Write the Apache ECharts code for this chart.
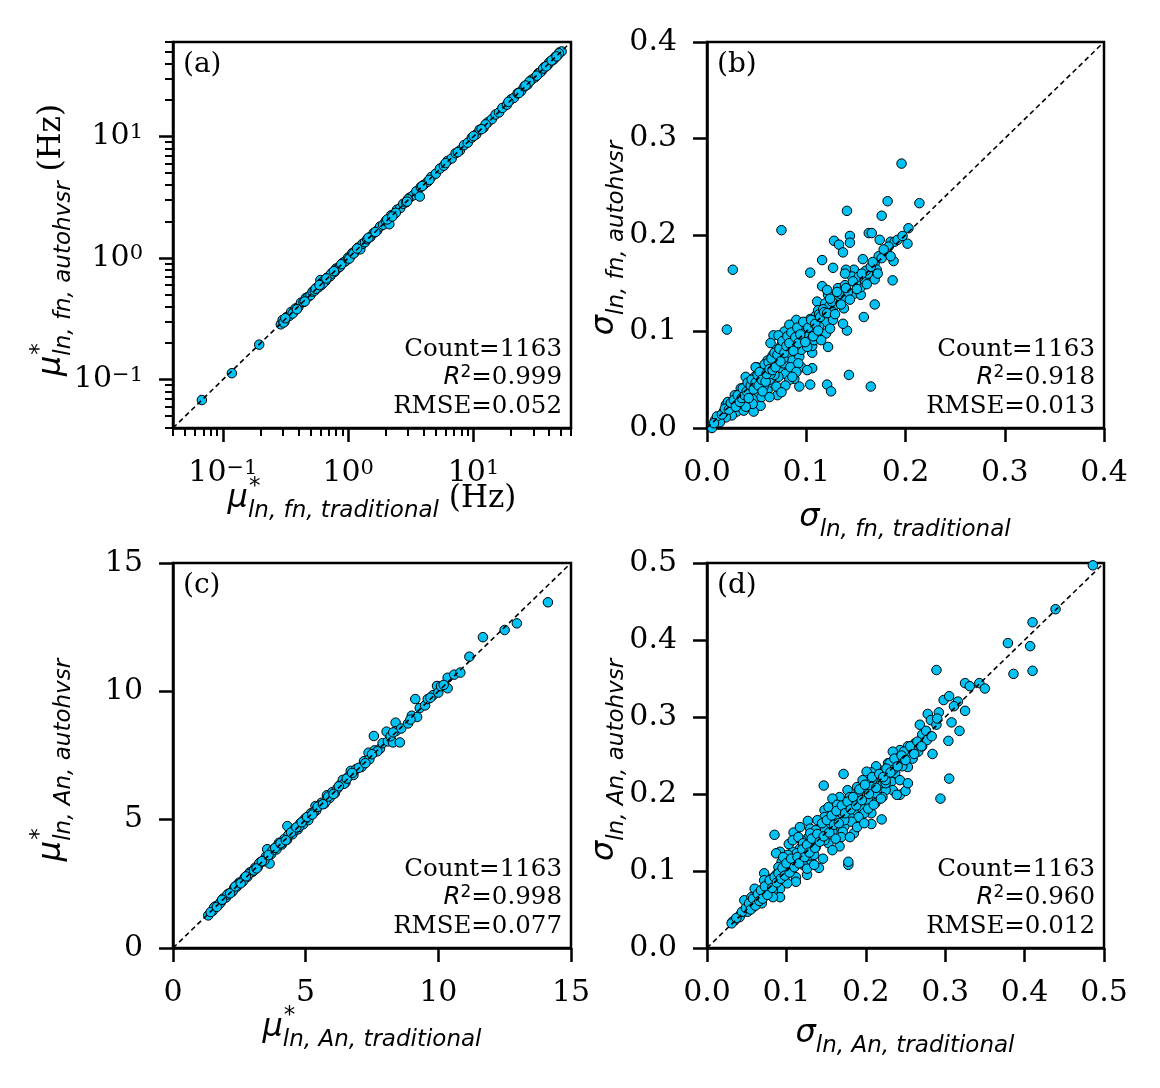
<!doctype html>
<html>
<head>
<meta charset="utf-8">
<script src="https://cdn.jsdelivr.net/npm/echarts@6/dist/echarts.min.js"></script>
<style>
  html, body { margin:0; padding:0; background:#fff; }
  #main { width:1160px; height:1088px; }
</style>
</head>
<body>
<div id="main"></div>
<script>
// ---- data ----
// (a) mu*_ln,fn : traditional vs autohvsr (Hz, log-log)
var muFnPoints = [
  [0.068,0.068],[0.118,0.113],[0.195,0.194],[0.29,0.285],[0.30,0.31],[0.31,0.30],[0.32,0.325],[0.33,0.33],
  [0.34,0.335],[0.35,0.36],[0.37,0.365],[0.38,0.385],[0.40,0.395],[0.42,0.43],[0.44,0.435],[0.46,0.47],
  [0.48,0.48],[0.50,0.495],[0.52,0.53],[0.54,0.54],[0.56,0.57],[0.58,0.575],[0.60,0.66],[0.61,0.60],
  [0.62,0.63],[0.64,0.65],[0.66,0.65],[0.68,0.69],[0.70,0.70],[0.72,0.71],[0.75,0.76],[0.78,0.77],
  [0.80,0.82],[0.83,0.83],[0.86,0.85],[0.90,0.91],[0.93,0.93],[0.96,0.95],[1.00,1.01],[1.04,1.03],
  [1.08,1.10],[1.12,1.11],[1.16,1.17],[1.20,1.22],[1.25,1.18],[1.30,1.31],[1.36,1.35],[1.42,1.43],
  [1.50,1.49],[1.60,1.61],[1.70,1.68],[1.80,1.82],[1.90,1.88],[2.00,2.02],[2.13,1.90],[2.20,2.25],
  [2.30,2.28],[2.45,2.50],[2.60,2.58],[2.75,2.80],[2.90,2.88],[3.10,3.15],[3.30,3.28],[3.50,3.55],
  [3.73,3.21],[3.80,3.85],[4.00,4.00],[4.30,4.25],[4.60,4.65],[5.00,4.95],[5.40,5.45],[5.80,5.75],
  [6.20,6.30],[6.70,6.60],[7.20,7.30],[7.80,7.70],[8.40,8.50],[9.00,8.90],[9.70,9.80],[10.5,10.4],
  [11.2,11.4],[12.0,11.8],[13.0,13.1],[14.0,13.9],[15.0,15.2],[16.0,15.8],[17.0,17.2],[18.5,18.3],
  [20.0,20.3],[21.0,20.8],[22.5,22.7],[24.0,23.7],[25.5,25.8],[27.0,26.8],[29.0,29.3],[31.0,30.7],
  [33.0,33.3],[35.0,34.6],[37.0,37.4],[39.0,38.6],[41.0,41.4],[43.0,42.6],[45.0,45.3],[47.0,46.6],
  [49.0,49.5],[50.5,50.2],[0.36,0.35],[0.45,0.44],[0.55,0.56],[0.63,0.62],[0.73,0.74],[0.88,0.89],
  [1.45,1.47],[1.65,1.64],[2.05,2.08],[2.40,2.36],[3.00,3.05],[4.45,4.40],[6.00,6.05],[12.5,12.6],
  [19.0,19.3],[23.0,22.8],[28.0,28.3],[34.0,33.7],[40.0,40.4],[44.0,43.6],[48.0,48.4],
  [0.305,0.295],[0.315,0.32],[0.39,0.38],[0.59,0.60],[0.67,0.68],[0.77,0.78],[1.02,0.99],[1.10,1.09],
  [1.18,1.20],[2.25,2.20],[2.95,2.92],[3.90,3.92],[7.50,7.45],[10.0,10.1],[11.6,11.5],[26.0,26.3],
  [32.0,31.7],[36.0,36.3],[38.0,37.8],[42.0,42.3],[46.0,45.7]
];

// (b) sigma_ln,fn : traditional vs autohvsr
var sigmaFnPoints = [
  [0.196,0.274],[0.182,0.235],[0.214,0.233],[0.141,0.225],[0.075,0.205],[0.176,0.220],[0.203,0.207],
  [0.202,0.191],[0.163,0.202],[0.166,0.202],[0.144,0.199],[0.144,0.192],[0.128,0.194],[0.133,0.190],
  [0.174,0.195],[0.185,0.193],[0.189,0.193],[0.137,0.182],[0.116,0.174],[0.157,0.175],[0.188,0.173],
  [0.026,0.164],[0.104,0.161],[0.127,0.166],[0.148,0.164],[0.187,0.153],[0.169,0.154],[0.116,0.147],
  [0.169,0.128],[0.158,0.115],[0.141,0.101],[0.020,0.102],[0.122,0.084],[0.106,0.062],[0.104,0.045],
  [0.121,0.045],[0.125,0.038],[0.143,0.055],[0.165,0.043],[0.093,0.043],[0.088,0.051],[0.071,0.034],
  [0.054,0.023],[0.047,0.017],[0.005,0.000],[0.011,0.011],[0.095,0.063],[0.106,0.078],[0.106,0.085],
  [0.067,0.096],[0.064,0.088],[0.078,0.100],[0.086,0.107],[0.093,0.107],[0.104,0.113],[0.101,0.108],
  [0.110,0.117],[0.120,0.115],[0.120,0.110],[0.120,0.098],[0.131,0.133],[0.122,0.138],[0.121,0.143],
  [0.132,0.145],[0.138,0.136],[0.138,0.124],[0.137,0.108],[0.128,0.126],[0.148,0.139],[0.155,0.138],
  [0.155,0.146],[0.159,0.153],[0.162,0.160],[0.169,0.171],[0.173,0.178],[0.179,0.180],[0.180,0.184],
  [0.171,0.164],[0.139,0.148],[0.146,0.157],[0.140,0.164],[0.139,0.160],[0.111,0.131],[0.119,0.129],
  [0.112,0.122],[0.123,0.126],[0.127,0.120],[0.127,0.112],[0.124,0.103],
  [0.050,0.063],[0.061,0.070],[0.066,0.075],[0.070,0.081],[0.075,0.086],[0.081,0.091],[0.086,0.095],
  [0.091,0.100],[0.095,0.103],[0.079,0.081],[0.083,0.075],[0.086,0.070],[0.093,0.074],[0.095,0.081],
  [0.101,0.084],[0.090,0.086],[0.074,0.062],[0.079,0.056],[0.072,0.053],[0.064,0.046],[0.061,0.039],
  [0.054,0.048],[0.048,0.053],[0.043,0.048],[0.039,0.043],[0.036,0.037],[0.032,0.032],[0.028,0.027],
  [0.023,0.022],[0.017,0.017],[0.014,0.013],[0.008,0.008],[0.025,0.018],[0.030,0.017],[0.037,0.018],
  [0.043,0.025],[0.048,0.032],[0.052,0.037],[0.057,0.043],[0.063,0.050],[0.068,0.055],[0.057,0.053],
  [0.050,0.043],[0.041,0.036],[0.034,0.025],[0.039,0.029],[0.019,0.024],[0.028,0.034],[0.034,0.041],
  [0.039,0.053],[0.049,0.063],[0.057,0.058],[0.064,0.065],[0.072,0.070],[0.077,0.067],[0.084,0.063],
  [0.092,0.067],[0.077,0.072],[0.090,0.058],[0.083,0.050],[0.064,0.056],[0.070,0.043],[0.055,0.032],
  [0.046,0.025],[0.039,0.022],[0.025,0.013],[0.019,0.011],[0.012,0.010],[0.013,0.006],[0.021,0.027],
  [0.099,0.095],[0.108,0.100],[0.103,0.100],[0.096,0.091],[0.108,0.091],[0.115,0.091],[0.113,0.105],
  [0.106,0.105],[0.090,0.112],[0.083,0.107],[0.072,0.096],[0.086,0.053],[0.101,0.060],[0.079,0.044],
  [0.075,0.037],[0.063,0.032],[0.113,0.118],[0.117,0.123],[0.126,0.131],[0.134,0.139],[0.142,0.141],
  [0.150,0.150],[0.153,0.157],[0.160,0.163],[0.165,0.167],[0.176,0.176],[0.183,0.188],[0.192,0.195],
  [0.197,0.199],[0.098,0.098],[0.088,0.089],[0.082,0.083],[0.069,0.067],[0.059,0.061],[0.046,0.046],
  [0.044,0.039],[0.031,0.029],[0.027,0.024],[0.016,0.015],[0.010,0.012],[0.007,0.005],
  [0.015,0.014],[0.018,0.020],[0.022,0.019],[0.024,0.026],[0.027,0.029],[0.029,0.022],[0.031,0.034],
  [0.033,0.027],[0.035,0.031],[0.036,0.041],[0.038,0.034],[0.040,0.038],[0.041,0.047],[0.042,0.031],
  [0.044,0.044],[0.045,0.050],[0.047,0.040],[0.049,0.047],[0.051,0.055],[0.052,0.044],[0.053,0.058],
  [0.055,0.050],[0.056,0.038],[0.058,0.066],[0.059,0.048],[0.060,0.056],[0.062,0.068],[0.063,0.061],
  [0.065,0.072],[0.066,0.060],[0.068,0.078],[0.069,0.063],[0.071,0.076],[0.073,0.082],[0.074,0.069],
  [0.076,0.090],[0.078,0.078],[0.080,0.085],[0.081,0.095],[0.083,0.088],[0.085,0.099],[0.087,0.080],
  [0.089,0.094],[0.091,0.104],[0.092,0.088],[0.094,0.097],[0.097,0.110],[0.099,0.089],[0.102,0.104],
  [0.105,0.112],[0.107,0.095],[0.109,0.108],[0.112,0.101],[0.114,0.115],[0.118,0.120],[0.121,0.119],
  [0.124,0.134],[0.129,0.118],[0.131,0.141],[0.135,0.128],[0.140,0.145],[0.144,0.133],[0.147,0.152],
  [0.151,0.144],[0.156,0.160],[0.161,0.149],[0.167,0.172],[0.172,0.160],[0.178,0.185],[0.185,0.178]
];

// (c) mu*_ln,An : traditional vs autohvsr
var muAnPoints = [
  [1.33,1.27],[1.50,1.45],[1.60,1.62],[1.70,1.66],[1.80,1.78],[1.90,1.93],[2.00,1.97],[2.10,2.12],
  [2.20,2.17],[2.30,2.33],[2.40,2.38],[2.50,2.55],[2.60,2.57],[2.70,2.74],[2.80,2.77],[2.90,2.95],
  [3.00,2.97],[3.10,3.13],[3.20,3.16],[3.30,3.35],[3.40,3.37],[3.50,3.56],[3.55,3.85],[3.64,3.29],
  [3.70,3.66],[3.80,3.86],[3.90,3.84],[4.00,4.10],[4.10,4.03],[4.20,4.25],[4.31,4.75],[4.30,4.22],
  [4.40,4.45],[4.50,4.43],[4.60,4.66],[4.70,4.62],[4.80,4.86],[4.90,4.82],[5.00,5.05],[5.10,4.98],
  [5.20,5.25],[5.37,5.53],[5.40,5.36],[5.60,5.66],[5.70,5.62],[5.80,5.95],[5.90,5.84],[6.00,6.07],
  [6.10,6.03],[6.30,6.35],[6.40,6.55],[6.50,6.45],[6.60,6.66],[6.70,6.90],[6.80,6.74],[6.90,6.97],
  [7.10,7.05],[7.20,7.28],[7.37,7.61],[7.40,7.35],[7.57,8.26],[7.60,7.70],[7.80,7.76],[7.90,7.98],
  [8.05,8.43],[8.10,8.05],[8.29,8.01],[8.39,8.78],[8.40,8.45],[8.55,8.01],[8.60,8.55],[8.86,8.75],
  [9.00,9.05],[9.20,9.00],[9.13,9.70],[9.30,9.35],[9.50,9.45],[9.60,9.70],[9.80,9.85],[9.95,10.21],
  [10.0,9.95],[10.1,10.2],[10.35,10.53],[10.35,10.12],[10.6,10.65],[10.83,10.73],[11.17,11.35],
  [11.68,12.11],[12.5,12.39],[12.96,12.65],[14.13,13.47],
  [1.55,1.58],[1.75,1.72],[2.05,2.08],[2.25,2.21],[2.45,2.48],[2.65,2.62],[2.85,2.88],[3.05,3.02],
  [3.25,3.30],[3.45,3.42],[3.75,3.80],[3.95,4.00],[4.15,4.12],[4.35,4.40],[4.55,4.58],[4.75,4.72],
  [4.95,5.00],[5.30,5.28],[5.50,5.55],[5.75,5.70],[6.20,6.22],[6.45,6.40],[7.00,7.02],[7.70,7.66],
  [8.20,8.25],[8.95,8.90],[9.70,9.75],[10.2,10.25],
  [1.42,1.40],[1.65,1.60],[1.85,1.88],[2.15,2.13],[2.35,2.40],[2.55,2.52],[2.75,2.79],[3.15,3.10],
  [3.35,3.38],[3.60,3.62],[3.85,3.90],[4.05,4.08],[4.25,4.20],[4.45,4.50],[4.65,4.70],[4.85,4.90],
  [5.05,5.10],[5.25,5.20],[5.45,5.50],[5.65,5.60],[5.85,5.90],[6.05,6.00],[6.25,6.30],[6.55,6.60],
  [6.75,6.82],[7.25,7.20],[7.50,7.55],[8.30,8.40]
];

// (d) sigma_ln,An : traditional vs autohvsr
var sigmaAnPoints = [
  [0.486,0.497],[0.439,0.440],[0.410,0.423],[0.407,0.392],[0.379,0.396],[0.386,0.356],[0.410,0.360],
  [0.289,0.361],[0.325,0.344],[0.331,0.340],[0.343,0.344],[0.350,0.337],[0.298,0.322],[0.305,0.327],
  [0.316,0.320],[0.311,0.314],[0.325,0.308],[0.278,0.304],[0.292,0.306],[0.308,0.293],[0.318,0.282],
  [0.304,0.269],[0.268,0.290],[0.284,0.252],[0.305,0.220],[0.294,0.194],[0.282,0.296],[0.289,0.290],
  [0.273,0.270],[0.271,0.277],[0.262,0.266],[0.253,0.262],[0.243,0.257],[0.234,0.255],[0.266,0.255],
  [0.255,0.249],[0.246,0.242],[0.237,0.238],[0.228,0.240],[0.223,0.231],[0.213,0.236],[0.216,0.225],
  [0.207,0.228],[0.201,0.229],[0.203,0.218],[0.212,0.214],[0.221,0.218],[0.230,0.223],[0.237,0.227],
  [0.232,0.216],[0.234,0.205],[0.243,0.199],[0.250,0.204],[0.239,0.199],[0.253,0.235],[0.225,0.205],
  [0.221,0.196],[0.212,0.201],[0.198,0.207],[0.189,0.209],[0.194,0.199],[0.203,0.192],[0.207,0.175],
  [0.220,0.167],[0.207,0.161],[0.172,0.226],[0.147,0.211],[0.177,0.205],[0.167,0.196],[0.185,0.188],
  [0.173,0.181],[0.185,0.177],[0.194,0.183],[0.198,0.175],[0.180,0.170],[0.169,0.170],[0.160,0.175],
  [0.148,0.179],[0.153,0.183],[0.148,0.170],[0.139,0.166],[0.145,0.157],[0.153,0.160],[0.162,0.157],
  [0.173,0.158],[0.185,0.149],[0.171,0.151],[0.158,0.151],[0.169,0.144],[0.167,0.132],[0.178,0.108],
  [0.178,0.112],[0.153,0.136],[0.148,0.140],[0.142,0.147],[0.135,0.140],[0.137,0.131],[0.128,0.144],
  [0.127,0.165],[0.133,0.136],[0.126,0.127],[0.117,0.129],[0.119,0.121],[0.112,0.116],[0.126,0.116],
  [0.135,0.121],[0.146,0.116],[0.141,0.104],[0.130,0.108],[0.121,0.108],[0.108,0.108],[0.103,0.101],
  [0.099,0.110],[0.108,0.125],[0.109,0.150],[0.103,0.135],[0.092,0.125],[0.087,0.123],[0.085,0.147],
  [0.094,0.112],[0.090,0.105],[0.096,0.099],[0.087,0.095],[0.081,0.090],[0.072,0.097],[0.072,0.088],
  [0.078,0.084],[0.087,0.082],[0.099,0.086],[0.112,0.092],[0.126,0.095],[0.112,0.086],[0.101,0.084],
  [0.092,0.077],[0.083,0.075],[0.092,0.066],[0.083,0.066],[0.074,0.071],[0.067,0.066],[0.062,0.062],
  [0.060,0.077],[0.069,0.058],[0.058,0.053],[0.051,0.060],[0.047,0.062],[0.056,0.066],[0.051,0.047],
  [0.042,0.043],[0.041,0.040],[0.035,0.036],[0.032,0.034],[0.031,0.032],[0.108,0.140],[0.119,0.140],
  [0.130,0.155],[0.117,0.157],[0.115,0.144],[0.158,0.194],[0.164,0.186],[0.180,0.196],[0.191,0.203],
  [0.196,0.218],[0.207,0.209],[0.219,0.214],[0.225,0.214],[0.230,0.240],[0.241,0.246],[0.248,0.255],
  [0.259,0.257],[0.259,0.246],[0.246,0.236],[0.234,0.231],[0.225,0.218],[0.212,0.188],[0.203,0.181],
  [0.191,0.170],[0.182,0.164],[0.173,0.166],[0.162,0.166],[0.155,0.167],[0.148,0.153],[0.137,0.153],
  [0.130,0.149],[0.121,0.136],[0.113,0.123],[0.102,0.121],[0.096,0.118],[0.105,0.114],[0.126,0.103],
  [0.135,0.108],[0.158,0.127],[0.162,0.142],[0.180,0.144],[0.189,0.157],[0.198,0.162],[0.210,0.186],
  [0.219,0.194],[0.243,0.218],[0.253,0.214],[0.271,0.262],[0.277,0.270],
  [0.037,0.039],[0.044,0.047],[0.049,0.052],[0.053,0.058],[0.055,0.050],[0.058,0.064],[0.061,0.055],
  [0.064,0.070],[0.066,0.061],[0.068,0.075],[0.070,0.064],[0.073,0.080],[0.076,0.069],[0.079,0.088],
  [0.082,0.078],[0.085,0.092],[0.088,0.085],[0.090,0.097],[0.093,0.090],[0.095,0.104],[0.098,0.094],
  [0.100,0.110],[0.104,0.098],[0.106,0.116],[0.110,0.105],[0.114,0.118],[0.116,0.110],[0.120,0.128],
  [0.123,0.118],[0.126,0.134],[0.129,0.124],[0.132,0.142],[0.136,0.130],[0.139,0.148],[0.142,0.138],
  [0.145,0.162],[0.147,0.145],[0.151,0.166],[0.154,0.150],[0.157,0.172],[0.160,0.160],[0.163,0.178],
  [0.166,0.162],[0.170,0.185],[0.174,0.175],[0.177,0.190],[0.181,0.180],[0.184,0.196],[0.188,0.185],
  [0.192,0.206],[0.195,0.192],[0.199,0.212],[0.204,0.200],[0.208,0.222],[0.213,0.208],[0.217,0.226],
  [0.222,0.222],[0.226,0.233],[0.231,0.228],[0.236,0.246],[0.240,0.236],[0.245,0.250],[0.250,0.244],
  [0.256,0.262],[0.261,0.252],[0.265,0.268],[0.270,0.262],[0.276,0.282],[0.283,0.275],[0.290,0.298]
];

var logMajor = [0.1, 1, 10];
var logMinor = [0.04,0.05,0.06,0.07,0.08,0.09,0.2,0.3,0.4,0.5,0.6,0.7,0.8,0.9,
                2,3,4,5,6,7,8,9,20,30,40,50,60];
var panelLetters = ['(a)', '(b)', '(c)', '(d)'];
var stats = [
  ['1163', '0.999', '0.052'],
  ['1163', '0.918', '0.013'],
  ['1163', '0.998', '0.077'],
  ['1163', '0.960', '0.012']
];

// ---- layout ----
var grids = [
  {left:173, top:42, width:398, height:386},
  {left:707, top:42, width:397, height:386},
  {left:173, top:563, width:398, height:385},
  {left:707, top:563, width:397, height:385}
];

var SERIF = '"DejaVu Serif", "Liberation Serif", serif';
var SANS = '"DejaVu Sans", sans-serif';

function fontI(s){ return 'italic ' + s + 'px ' + SANS; }
function fontS(s){ return s + 'px ' + SANS; }
function fontR(s){ return s + 'px ' + SERIF; }

var ctx2d = document.createElement('canvas').getContext('2d');
function textWidth(t, f){ ctx2d.font = f; return ctx2d.measureText(t).width; }

// math-like label: symbol with * superscript and subscript, built from text pieces
function mathTitle(cx, cy, rot, pieces){
  var x = 0, kids = [];
  pieces.forEach(function(p){
    kids.push({
      type:'text', x: x + (p.dx || 0), y: p.dy - 0.3 * p.size,
      style:{text:p.t, font:p.font, fill:'#000', textAlign:'left', textVerticalAlign:'middle'}
    });
    if (!p.overlay) x += textWidth(p.t, p.font);
  });
  kids.forEach(function(k){ k.x -= x / 2; });
  return {type:'group', x:cx, y:cy, rotation:rot, silent:true, children:kids};
}

function titlePieces(sym, star, sub, suffix){
  var p = [{t:sym, font:fontI(32), size:32, dy:0}];
  if (star) p.push({t:'*', font:fontS(23), size:23, dy:-14, dx:1, overlay:true});
  p.push({t:sub, font:fontI(23), size:23, dy:10});
  if (suffix) p.push({t:suffix, font:fontR(31), size:31, dy:0});
  return p;
}

function powLabel(v){
  var e = Math.round(Math.log10(v));
  if (Math.abs(Math.log10(v) - e) > 1e-6) return '';
  return '{b|10}{s|' + (e < 0 ? '\u2212' + (-e) : e) + '}';
}
var powRich = {
  b:{fontFamily:SERIF, fontSize:30, color:'#000', lineHeight:30},
  s:{fontFamily:SERIF, fontSize:21, color:'#000', verticalAlign:'top', lineHeight:21}
};

var lineW = 2.5;
function baseAxis(gi, extra){
  var a = {
    gridIndex: gi,
    axisLine:{show:true, onZero:false, lineStyle:{color:'#000', width:lineW}},
    axisTick:{show:true, inside:false, length:14, lineStyle:{color:'#000', width:lineW}},
    splitLine:{show:false},
    axisLabel:{color:'#000', fontFamily:SERIF, fontSize:30, margin:30}
  };
  return echarts.util.merge(a, extra, true);
}

function fix1(v){ return v.toFixed(1); }

var xAxes = [
  baseAxis(0, {type:'log', logBase:10, min:0.04, max:60, position:'bottom',
    axisTick:{customValues:logMajor},
    axisLabel:{customValues:logMajor, formatter:powLabel, rich:powRich}}),
  baseAxis(0, {type:'log', logBase:10, min:0.04, max:60, position:'bottom',
    axisLine:{show:false}, axisLabel:{show:false},
    axisTick:{customValues:logMinor, length:8, lineStyle:{width:2}}}),
  baseAxis(1, {type:'value', min:0, max:0.4, interval:0.1, axisLabel:{formatter:fix1}}),
  baseAxis(2, {type:'value', min:0, max:15, interval:5}),
  baseAxis(3, {type:'value', min:0, max:0.5, interval:0.1, axisLabel:{formatter:fix1}})
];
var yAxes = [
  baseAxis(0, {type:'log', logBase:10, min:0.04, max:60, position:'left',
    axisTick:{customValues:logMajor},
    axisLabel:{customValues:logMajor, formatter:powLabel, rich:powRich}}),
  baseAxis(0, {type:'log', logBase:10, min:0.04, max:60, position:'left',
    axisLine:{show:false}, axisLabel:{show:false},
    axisTick:{customValues:logMinor, length:8, lineStyle:{width:2}}}),
  baseAxis(1, {type:'value', min:0, max:0.4, interval:0.1, axisLabel:{formatter:fix1}}),
  baseAxis(2, {type:'value', min:0, max:15, interval:5}),
  baseAxis(3, {type:'value', min:0, max:0.5, interval:0.1, axisLabel:{formatter:fix1}})
];

var panelData = [muFnPoints, sigmaFnPoints, muAnPoints, sigmaAnPoints];
var panelRange = [[0.04, 60], [0, 0.4], [0, 15], [0, 0.5]];
var axisIdx = [0, 2, 3, 4];

var series = [];
panelData.forEach(function(pts, i){
  series.push({
    type:'scatter', xAxisIndex:axisIdx[i], yAxisIndex:axisIdx[i], data:pts,
    symbol:'circle', symbolSize:9.5, z:2, silent:true,
    itemStyle:{color:'#00c2f5', borderColor:'#000', borderWidth:1, opacity:1}
  });
  var r = panelRange[i];
  series.push({
    type:'line', xAxisIndex:axisIdx[i], yAxisIndex:axisIdx[i],
    data:[[r[0], r[0]], [r[1], r[1]]], symbol:'none', z:3, silent:true,
    lineStyle:{color:'#000', width:1.6, type:[5, 3.5]}
  });
});

// ---- texts ----
var graphic = [];
grids.forEach(function(g, i){
  graphic.push({type:'text', x:g.left + 10, y:g.top + 23, silent:true,
    style:{text:panelLetters[i], font:fontR(28), fill:'#000', textAlign:'left', textVerticalAlign:'middle'}});
  var s = stats[i];
  graphic.push({type:'text', x:g.left + g.width - 9, y:g.top + g.height - 50, silent:true,
    style:{
      text:'{r|Count=' + s[0] + '}\n{i|R}{p|2}{r|=' + s[1] + '}\n{r|RMSE=' + s[2] + '}',
      textAlign:'right', textVerticalAlign:'middle',
      rich:{
        r:{fontFamily:SERIF, fontSize:24.5, lineHeight:28.5, color:'#000'},
        i:{fontFamily:SANS, fontStyle:'italic', fontSize:24.5, lineHeight:28.5, color:'#000'},
        p:{fontFamily:SANS, fontSize:17, lineHeight:17, verticalAlign:'top', color:'#000'}
      }
    }});
});

graphic.push(mathTitle(372, 508, 0, titlePieces('\u03bc', true, 'ln, fn, traditional', ' (Hz)')));
graphic.push(mathTitle(61, 240, Math.PI / 2, titlePieces('\u03bc', true, 'ln, fn, autohvsr', ' (Hz)')));
graphic.push(mathTitle(905, 527, 0, titlePieces('\u03c3', false, 'ln, fn, traditional')));
graphic.push(mathTitle(614, 238, Math.PI / 2, titlePieces('\u03c3', false, 'ln, fn, autohvsr')));
graphic.push(mathTitle(372, 1037, 0, titlePieces('\u03bc', true, 'ln, An, traditional')));
graphic.push(mathTitle(61, 760, Math.PI / 2, titlePieces('\u03bc', true, 'ln, An, autohvsr')));
graphic.push(mathTitle(905, 1043, 0, titlePieces('\u03c3', false, 'ln, An, traditional')));
graphic.push(mathTitle(614, 760, Math.PI / 2, titlePieces('\u03c3', false, 'ln, An, autohvsr')));

var chart = echarts.init(document.getElementById('main'), null, {renderer:'canvas'});
chart.setOption({
  backgroundColor:'#fff',
  animation:false,
  grid: grids.map(function(g){
    return Object.assign({show:true, borderColor:'#000', borderWidth:lineW,
      backgroundColor:'transparent', containLabel:false, outerBoundsMode:'none'}, g);
  }),
  xAxis: xAxes,
  yAxis: yAxes,
  series: series,
  graphic: graphic
});
</script>
</body>
</html>
